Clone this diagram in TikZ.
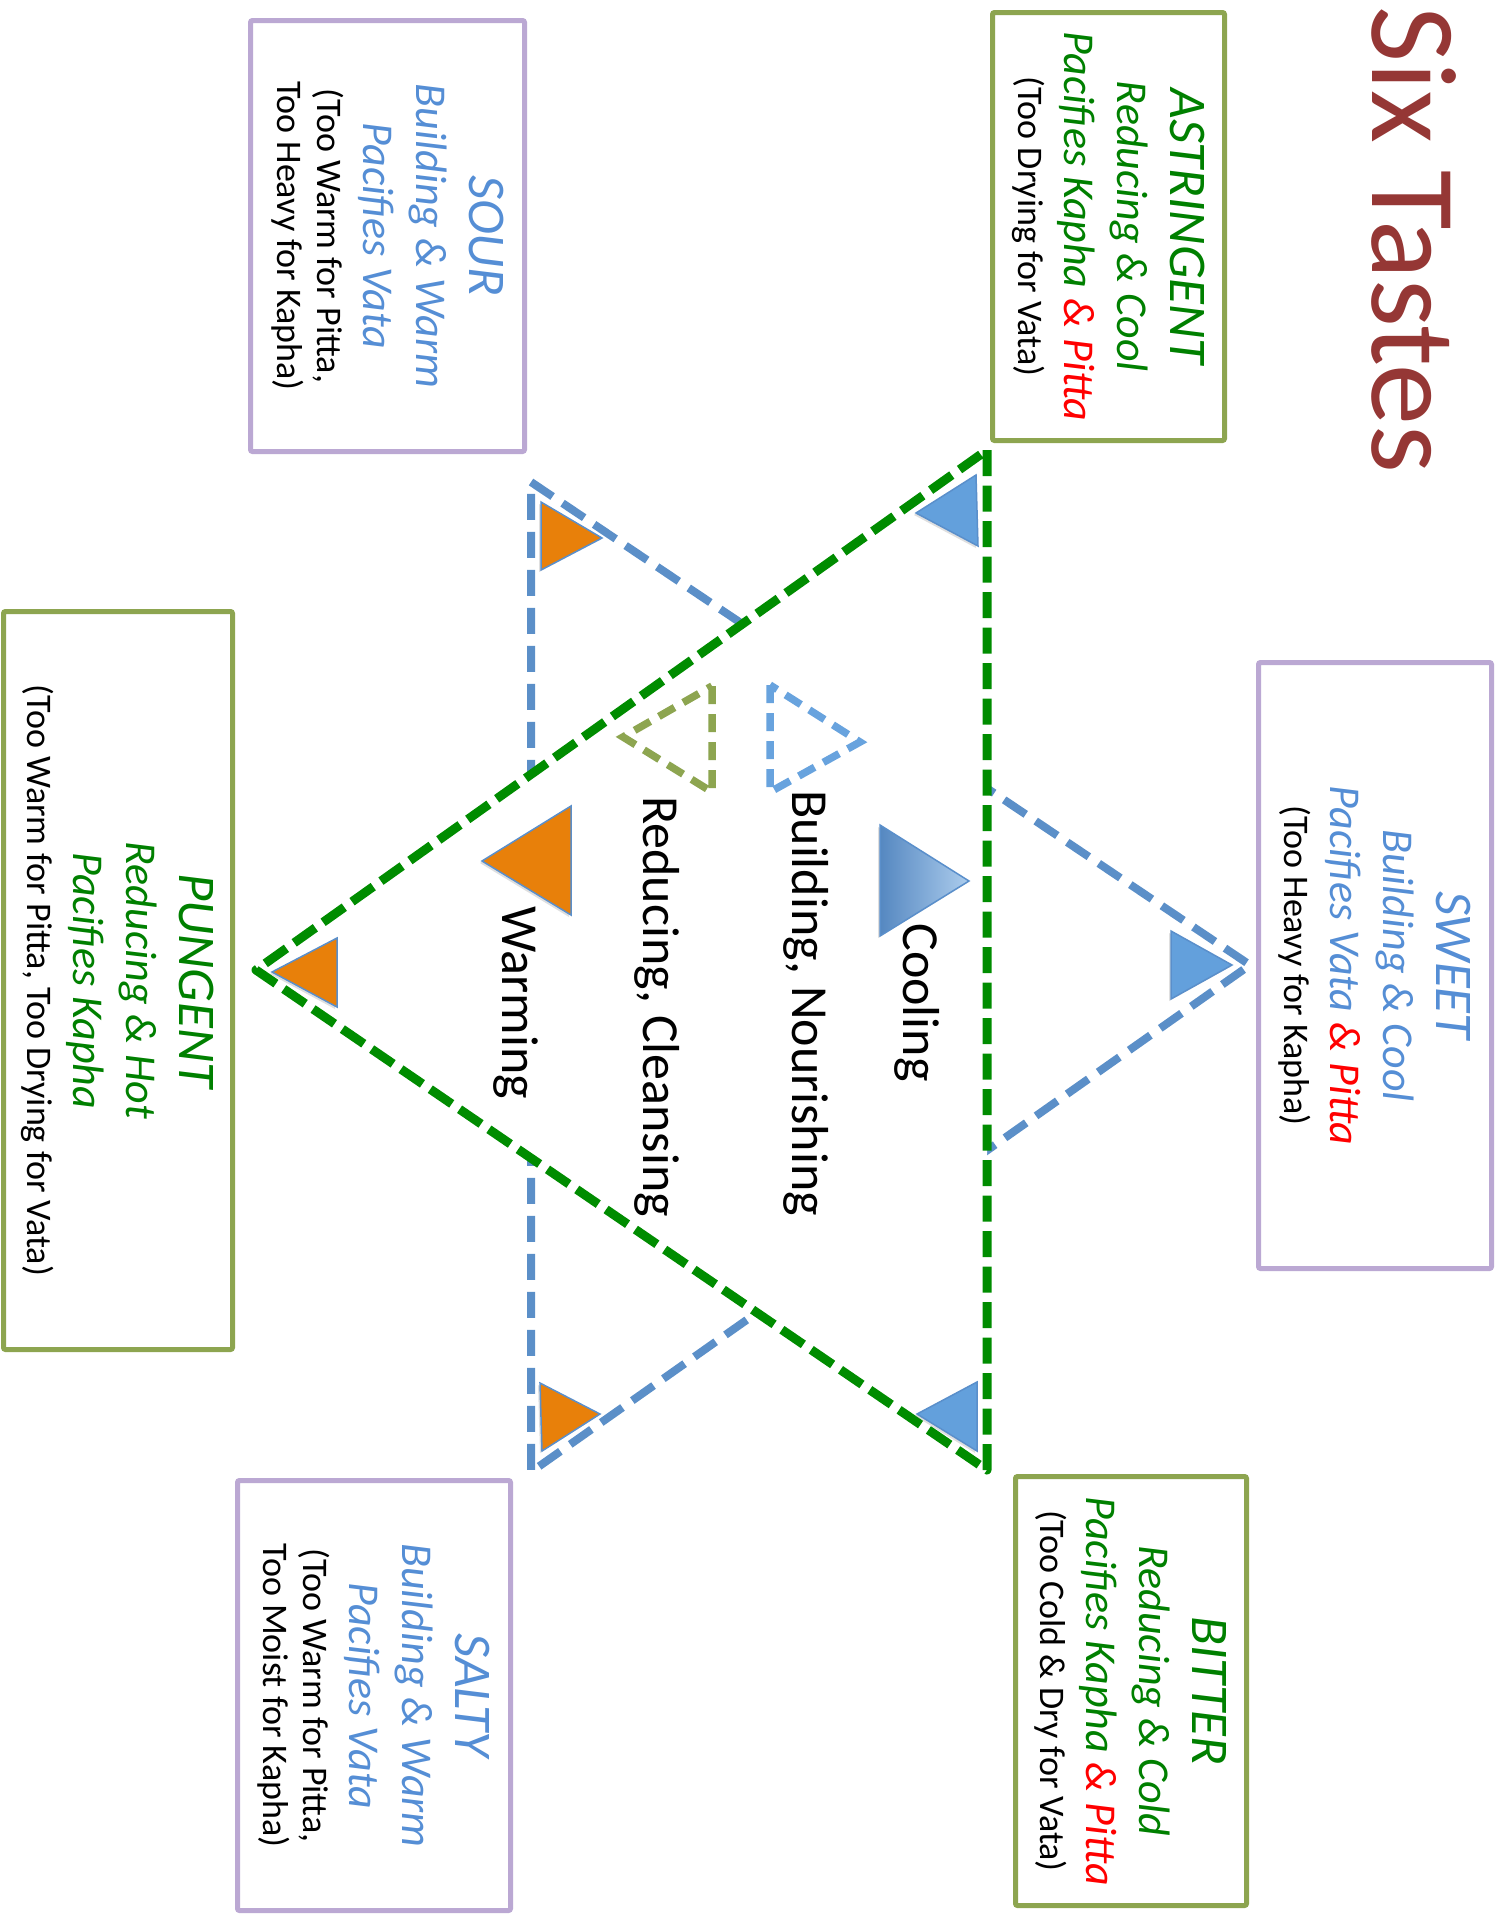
\documentclass[tikz,border=0pt]{standalone}
\usepackage{fontspec}
\setmainfont{Carlito}
\usepackage{tikz}
\usetikzlibrary{shadows}
\definecolor{TitleRed}   {HTML}{953735}
\definecolor{TasteGreen} {HTML}{008000}
\definecolor{TasteBlue}  {HTML}{558ED5}
\definecolor{PittaRed}   {HTML}{FF0000}
\definecolor{BoxOlive}   {HTML}{8DA550}
\definecolor{BoxLavender}{HTML}{BBA8D3}
\definecolor{DashGreen}  {HTML}{008C00}
\definecolor{DashBlue}   {HTML}{5B8FC8}
\definecolor{LightBlue}  {HTML}{68A3DE}
\definecolor{TriBlue}    {HTML}{63A0DC}
\definecolor{TriEdge}    {HTML}{5A8FCB}
\definecolor{TriOrange}  {HTML}{E8800A}

\tikzset{
  tastebox/.style={rotate=-90,fill=white,line width=2.5pt,rounded corners=1pt,
        align=center,inner sep=0pt,font=\fontsize{22}{26.5}\selectfont},
  legendtext/.style={rotate=-90,anchor=base west,inner sep=0pt,
        font=\fontsize{26}{30}\selectfont},
  bigtri/.style={line width=4.5pt,line join=round,dash pattern=on 13pt off 4.75pt},
  bluetri/.style={fill=TriBlue,draw=TriEdge,line width=0.75pt,
        drop shadow={opacity=0.25,shadow xshift=-1pt,shadow yshift=-1pt}},
  orangetri/.style={fill=TriOrange,draw=TriEdge,line width=0.75pt,
        drop shadow={opacity=0.25,shadow xshift=-1pt,shadow yshift=-1pt}}
}

\begin{document}
\begin{tikzpicture}[x=0.5pt,y=-0.5pt]
  \useasboundingbox (0,0) rectangle (1500,1923);

  % corners of the two crossed triangles
  \coordinate (gTop) at (987,450);
  \coordinate (gBot) at (987,1470);
  \coordinate (gTip) at (256,970);
  \coordinate (bTop) at (531,482);
  \coordinate (bBot) at (531,1472);
  \coordinate (bTip) at (1250,965);

  \draw[bigtri,draw=DashBlue,line width=4pt,dash pattern=on 13pt off 6pt]
    (bTop) -- (bTip) -- (bBot) -- cycle;
  \draw[bigtri,draw=DashGreen,fill=white] (gTop) -- (gBot) -- (gTip) -- cycle;

  % markers at the corners
  \draw[bluetri]   (976,475) -- (978,546) -- (916,513) -- cycle;
  \draw[orangetri] (541,502) -- (541,570) -- (602,538) -- cycle;
  \draw[bluetri]   (1171,931) -- (1171,999) -- (1232,965) -- cycle;
  \draw[orangetri] (337,938) -- (337,1007) -- (272,972) -- cycle;
  \draw[orangetri] (540,1383) -- (542,1451) -- (600,1414) -- cycle;
  \draw[bluetri]   (977,1382) -- (977,1451) -- (917,1414) -- cycle;

  % legend in the middle
  \draw[draw=TriEdge,line width=0.75pt,left color=TriEdge!95!black,right color=LightBlue!55!white,
        drop shadow={opacity=0.25,shadow xshift=-1pt,shadow yshift=-1pt}]
    (880,825) -- (880,936) -- (969,881) -- cycle;
  \draw[LightBlue,line width=3.75pt,dash pattern=on 9pt off 5pt] (770,685) -- (770,792) -- (860,742) -- cycle;
  \draw[BoxOlive,line width=3.75pt,dash pattern=on 9pt off 5pt] (712,686) -- (712,792) -- (623,737) -- cycle;
  \draw[orangetri] (571,806) -- (571,915) -- (482,861) -- cycle;

  \node[legendtext] (cooling)  at (903,923) {Cooling};
  \node[legendtext] (building) at (792,790) {Building, Nourishing};
  \node[legendtext] (reducing) at (643,796) {Reducing, Cleansing};
  \node[legendtext] (warming)  at (502,906) {Warming};

  \node[rotate=-90,anchor=base west,inner sep=0pt,text=TitleRed,
        font=\fontsize{61}{64}\selectfont] (title) at (1372,6) {Six Tastes};

  % the six taste boxes
  \node[tastebox,draw=BoxOlive,minimum width=214pt,minimum height=116pt]
    (astringent) at (1108.5,226.5) {%
    {\fontsize{26.5}{26.5}\selectfont\itshape\color{TasteGreen}ASTRINGENT}\\
    {\itshape\color{TasteGreen}Reducing \& Cool}\\
    {\itshape\color{TasteGreen}Pacifies Kapha \textcolor{PittaRed}{\& Pitta}}\\[-3.5pt]
    {\fontsize{18}{20}\selectfont (Too Drying for Vata)}};

  \node[tastebox,draw=BoxLavender,minimum width=215.5pt,minimum height=137pt]
    (sour) at (387.5,236) {%
    {\fontsize{26.5}{26.5}\selectfont\itshape\color{TasteBlue}SOUR}\\
    {\itshape\color{TasteBlue}Building \& Warm}\\
    {\itshape\color{TasteBlue}Pacifies Vata}\\[-3.5pt]
    {\fontsize{18}{20}\selectfont (Too Warm for Pitta,}\\[-6.5pt]
    {\fontsize{18}{20}\selectfont Too Heavy for Kapha)}};

  \node[tastebox,draw=BoxLavender,minimum width=303pt,minimum height=116.5pt]
    (sweet) at (1375,965.5) {%
    {\fontsize{26.5}{26.5}\selectfont\itshape\color{TasteBlue}SWEET}\\
    {\itshape\color{TasteBlue}Building \& Cool}\\
    {\itshape\color{TasteBlue}Pacifies Vata \textcolor{PittaRed}{\& Pitta}}\\[-3.5pt]
    {\fontsize{18}{20}\selectfont (Too Heavy for Kapha)}};

  \node[tastebox,draw=BoxOlive,minimum width=369pt,minimum height=114.5pt]
    (pungent) at (118,980.5) {%
    {\fontsize{26.5}{26.5}\selectfont\itshape\color{TasteGreen}PUNGENT}\\
    {\itshape\color{TasteGreen}Reducing \& Hot}\\
    {\itshape\color{TasteGreen}Pacifies Kapha}\\[-3.5pt]
    {\fontsize{18}{20}\selectfont (Too Warm for Pitta, Too Drying for Vata)}};

  \node[tastebox,draw=BoxLavender,minimum width=215pt,minimum height=136.5pt]
    (salty) at (374,1695.5) {%
    {\fontsize{26.5}{26.5}\selectfont\itshape\color{TasteBlue}SALTY}\\
    {\itshape\color{TasteBlue}Building \& Warm}\\
    {\itshape\color{TasteBlue}Pacifies Vata}\\[-3.5pt]
    {\fontsize{18}{20}\selectfont (Too Warm for Pitta,}\\[-6.5pt]
    {\fontsize{18}{20}\selectfont Too Moist for Kapha)}};

  \node[tastebox,draw=BoxOlive,minimum width=214.5pt,minimum height=115.5pt]
    (bitter) at (1131,1691) {%
    {\fontsize{26.5}{26.5}\selectfont\itshape\color{TasteGreen}BITTER}\\
    {\itshape\color{TasteGreen}Reducing \& Cold}\\
    {\itshape\color{TasteGreen}Pacifies Kapha \textcolor{PittaRed}{\& Pitta}}\\[-3.5pt]
    {\fontsize{18}{20}\selectfont (Too Cold \& Dry for Vata)}};
\end{tikzpicture}
\end{document}
